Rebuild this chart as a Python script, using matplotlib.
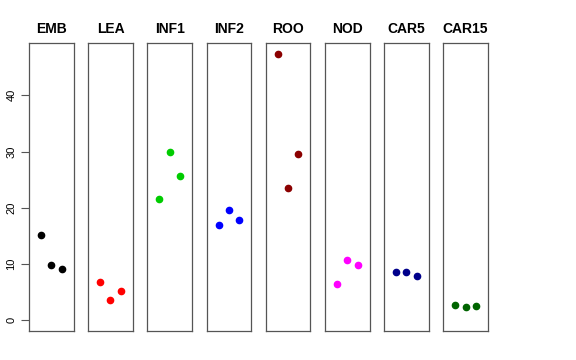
import matplotlib
matplotlib.use('Agg')
import matplotlib.pyplot as plt

# 그룹 이름과 색상
groups = ['EMB', 'LEA', 'INF1', 'INF2', 'ROO', 'NOD', 'CAR5', 'CAR15']
colors = ['black', 'red', '#00cc00', 'blue', '#8b0000', 'magenta', '#00008b', '#006400']

# 각 그룹의 반복값 (3개)
reps = [1, 2, 3]
values = [
    [15.1, 9.9, 9.1],
    [6.8, 3.6, 5.3],
    [21.6, 29.9, 25.7],
    [17.0, 19.6, 17.9],
    [47.4, 23.5, 29.5],
    [6.5, 10.8, 9.9],
    [8.5, 8.5, 7.8],
    [2.7, 2.3, 2.6],
]
yticks = [0, 10, 20, 30, 40]

plt.rcParams['font.family'] = ['Liberation Sans', 'DejaVu Sans']

fig, axes = plt.subplots(1, len(groups), figsize=(5.76, 3.6), dpi=100)
fig.subplots_adjust(left=0.0503, right=0.847, top=0.8806, bottom=0.0806, wspace=0.327)

ymax = 47.4
for i, ax in enumerate(axes):
    ax.plot(reps, values[i], 'o', color=colors[i], markersize=4.5)
    ax.set_xlim(-0.16, 4.16)
    ax.set_ylim(-0.04 * ymax, ymax * 1.04)
    ax.set_title(groups[i], fontsize=10, fontweight='bold', pad=7)
    ax.set_xticks([])
    for s in ax.spines.values():
        s.set_color('#555555')
        s.set_linewidth(0.9)
    if i == 0:
        ax.set_yticks(yticks)
        ax.set_yticklabels([str(t) for t in yticks], rotation=90, va='center', fontsize=8)
        ax.tick_params(axis='y', length=6, color='#555555', pad=3)
    else:
        ax.set_yticks([])

plt.savefig('out.png', dpi=100)
